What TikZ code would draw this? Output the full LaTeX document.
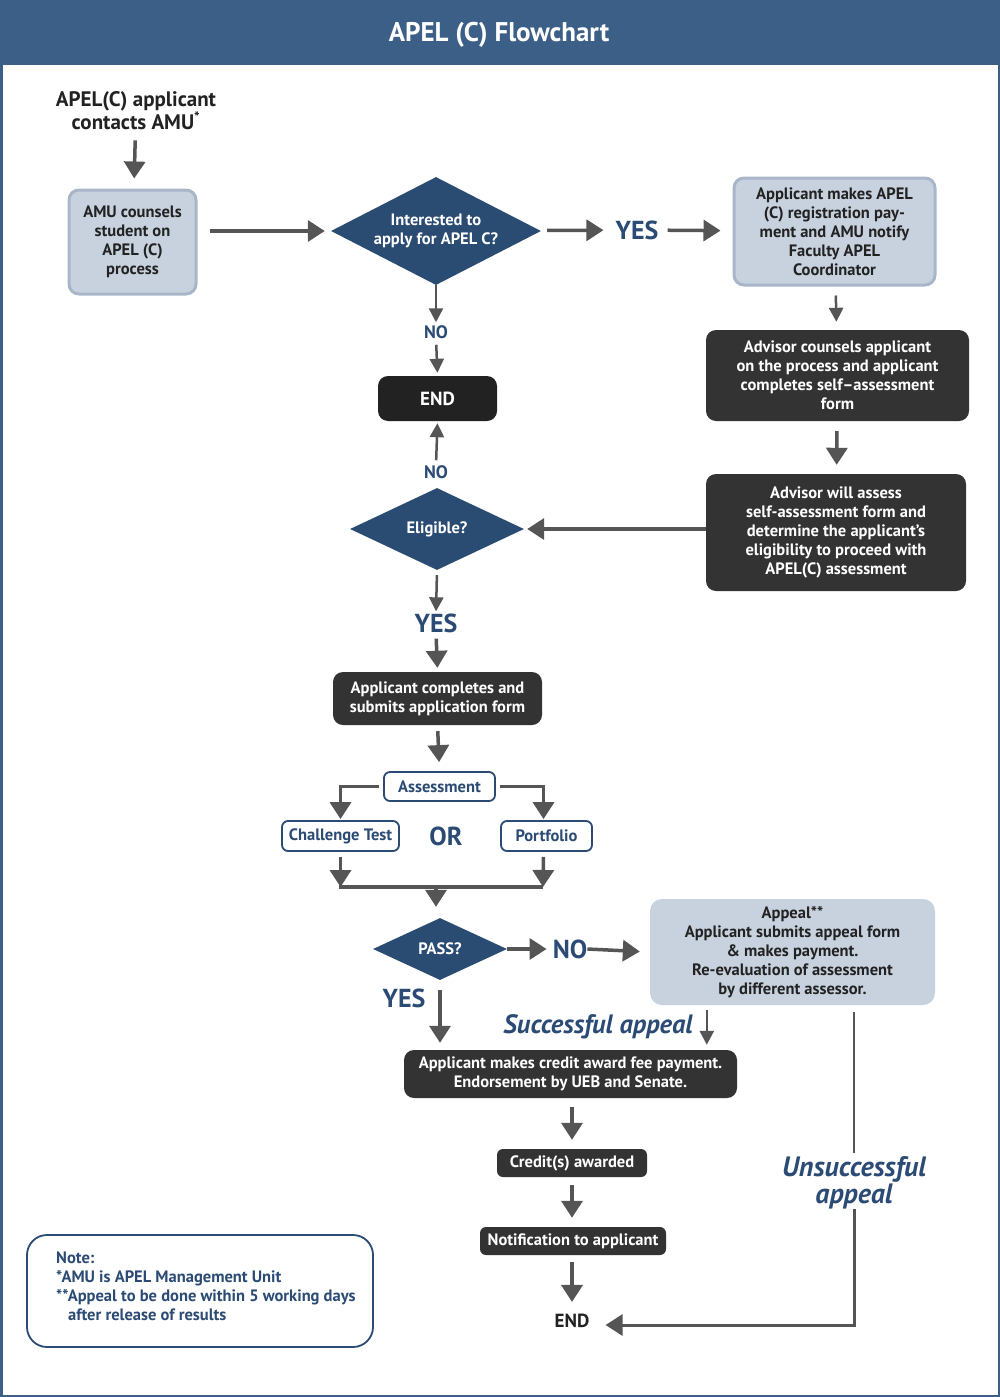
\documentclass[tikz,border=0pt]{standalone}
\usepackage{fontspec}
\setmainfont{PT Sans}
\usetikzlibrary{arrows.meta,shapes.geometric}
\definecolor{hdr}{HTML}{3B5F86}
\definecolor{dia}{HTML}{2B4C72}
\definecolor{darkbox}{HTML}{333333}
\definecolor{endbox}{HTML}{222222}
\definecolor{lightfill}{HTML}{C8D2DE}
\definecolor{lightdraw}{HTML}{A9B6C9}
\definecolor{bluetxt}{HTML}{2B4B74}
\definecolor{arrowgray}{HTML}{555555}
\definecolor{txtdark}{HTML}{222222}
\begin{document}
\begin{tikzpicture}[x=1pt,y=-1pt,
  bodyfont/.style={font=\fontsize{16.5}{19}\selectfont\bfseries},
  lightbox/.style={rectangle,rounded corners=10pt,fill=lightfill,draw=lightdraw,line width=3pt,align=center,text=txtdark,bodyfont,inner sep=0pt},
  darkbx/.style={rectangle,rounded corners=10pt,fill=darkbox,align=center,text=white,bodyfont,inner sep=0pt},
  outbox/.style={rectangle,rounded corners=6pt,fill=white,draw=bluetxt,line width=1.8pt,align=center,text=bluetxt,bodyfont,inner sep=0pt},
  decision/.style={diamond,aspect=2,fill=dia,text=white,align=center,bodyfont,inner sep=0pt},
  biglabel/.style={text=bluetxt,font=\fontsize{26}{28}\selectfont\bfseries,inner sep=0pt},
  midlabel/.style={text=bluetxt,font=\fontsize{18}{22}\selectfont\bfseries,inner sep=0pt},
  itlabel/.style={text=bluetxt,font=\fontsize{26.5}{25}\selectfont\bfseries\itshape,inner sep=0pt,align=center},
  arr/.style={draw=arrowgray,line width=3.5pt,-{Triangle[width=21pt,length=17pt]}},
  arrthin/.style={draw=arrowgray,line width=2.5pt,-{Triangle[width=14pt,length=14pt]}},
  plainline/.style={draw=arrowgray,line width=3.5pt},
  plainthin/.style={draw=arrowgray,line width=2.5pt}
]
\useasboundingbox (0,0) rectangle (1000,1397);
% header and frame
\fill[hdr] (0,0) rectangle (1000,65);
\draw[hdr,line width=2.5pt] (1.25,1.25) rectangle (998.75,1395.75);
\node[text=white,font=\fontsize{27}{30}\selectfont\bfseries,inner sep=0pt] (title) at (499,35) {APEL (C) Flowchart};

% nodes
\node[text=txtdark,font=\fontsize{21}{23}\selectfont\bfseries,align=center,inner sep=0pt] (start) at (136,111) {APEL(C) applicant\\contacts AMU\textsuperscript{*}};
\node[lightbox,minimum width=127pt,minimum height=104pt] (amu) at (132.5,242) {AMU counsels\\student on\\APEL (C)\\process};
\node[decision,minimum width=210pt,minimum height=108pt] (int) at (436,231) {Interested to\\apply for APEL C?\rule{0pt}{6pt}};
\node[biglabel] (yes1) at (637,230) {YES};
\node[lightbox,minimum width=201pt,minimum height=107pt] (reg) at (834.5,231.5) {Applicant makes APEL\\(C) registration pay-\\ment and AMU notify\\Faculty APEL\\Coordinator};
\node[darkbx,minimum width=263pt,minimum height=91pt] (adv1) at (837.5,375.5) {Advisor counsels applicant\\on the process and applicant\\completes self–assessment\\form};
\node[darkbx,minimum width=260pt,minimum height=117pt] (adv2) at (836,532.5) {Advisor will assess\\self-assessment form and\\determine the applicant’s\\eligibility to proceed with\\APEL(C) assessment};
\node[midlabel] (no1) at (436,332) {NO};
\node[rectangle,rounded corners=10pt,fill=endbox,text=white,font=\fontsize{19}{22}\selectfont\bfseries,minimum width=119pt,minimum height=45pt,inner sep=0pt] (endA) at (437.5,398.5) {END};
\node[midlabel] (no2) at (436,472) {NO};
\node[decision,minimum width=174pt,minimum height=82pt] (eli) at (437,529) {Eligible?};
\node[biglabel] (yes2) at (436,623) {YES};
\node[darkbx,minimum width=209pt,minimum height=53pt] (app) at (437.5,698.5) {Applicant completes and\\submits application form};
\node[outbox,minimum width=111pt,minimum height=29pt] (assess) at (439.5,786.5) {Assessment};
\node[outbox,minimum width=117pt,minimum height=30pt] (chal) at (340.5,836) {Challenge Test};
\node[outbox,minimum width=91pt,minimum height=30pt] (port) at (546.5,836) {Portfolio};
\node[biglabel] (or) at (446,836) {OR};
\coordinate (jl) at (339,887);
\coordinate (jr) at (543,887);
\coordinate (jm) at (436,887);
\node[decision,minimum width=134pt,minimum height=62pt] (pass) at (440,949) {PASS?};
\node[biglabel] (no3) at (570,949) {NO};
\node[rectangle,rounded corners=12pt,fill=lightfill,align=center,text=txtdark,bodyfont,inner sep=0pt,minimum width=285pt,minimum height=106pt] (appeal) at (792.5,952) {Appeal**\\Applicant submits appeal form\\\& makes payment.\\Re-evaluation of assessment\\by different assessor.};
\node[biglabel] (yes3) at (404,998) {YES};
\node[itlabel] (succ) at (598,1027) {Successful appeal};
\node[darkbx,minimum width=333pt,minimum height=48pt] (credit) at (570.5,1074) {Applicant makes credit award fee payment.\\Endorsement by UEB and Senate.};
\node[darkbx,rounded corners=6pt,minimum width=150pt,minimum height=28pt] (cred2) at (572,1163) {Credit(s) awarded};
\node[darkbx,rounded corners=6pt,minimum width=186pt,minimum height=28pt] (notif) at (573,1241) {Notification to applicant};
\node[text=txtdark,font=\fontsize{19}{22}\selectfont\bfseries,inner sep=0pt] (endB) at (572,1321) {END};
\node[itlabel,font=\fontsize{28}{25}\selectfont\bfseries\itshape] (unsucc) at (854,1183) {Unsuccessful\\appeal};

% note
\node[rectangle,rounded corners=20pt,draw=bluetxt,line width=1.8pt,fill=white,minimum width=346pt,minimum height=112pt,inner sep=0pt] (notebox) at (200,1291) {};
\node[anchor=north west,align=left,text=bluetxt,bodyfont,inner sep=0pt] (notetxt) at (56,1252) {Note:\\*AMU is APEL Management Unit\\**Appeal to be done within 5 working days\\\hspace*{12pt}after release of results};

% connectors
\draw[arr,shorten <=10pt,shorten >=10pt] (start) -- (amu);
\draw[arr,shorten <=12pt,shorten >=6pt] (amu.east |- int.west) -- (int.west);
\draw[arr,shorten <=7pt,shorten >=12pt] (int) -- (yes1);
\draw[arr,shorten <=9pt,shorten >=12pt] (yes1) -- (reg);
\draw[arrthin,shorten <=9pt,shorten >=8pt] (reg) -- (adv1);
\draw[arr,shorten <=10pt,shorten >=9pt] (adv1) -- (adv2);
\draw[arr,shorten >=3pt] (eli.east -| adv2.west) -- (eli.east);
\draw[arrthin,shorten >=3pt] (int.south) -- (no1.north);
\draw[arrthin,shorten <=6pt,shorten >=3pt] (no1.south) -- (endA.north);
\draw[arrthin,shorten <=5pt,shorten >=2pt] (no2.north) -- (endA.south);
\draw[arrthin,shorten <=5pt,shorten >=2pt] (eli.south) -- (yes2.north);
\draw[arr,shorten <=6pt,shorten >=4pt] (yes2.south) -- (app.north);
\draw[arr,shorten <=6pt,shorten >=9pt] (app.south) -- (assess.north);
\draw[arr,shorten <=4pt,shorten >=1pt] (assess.west) -| (chal.north);
\draw[arr,shorten <=4pt,shorten >=1pt] (assess.east) -| ([xshift=-3pt]port.north);
\draw[plainline] (jl) -- (jr);
\draw[arr,shorten <=5pt] (chal.south) -- (chal.south |- jl);
\draw[arr,shorten <=5pt] ([xshift=-3pt]port.south) -- (jr);
\draw[arr,shorten >=11pt] (jm) -- (jm |- pass.north);
\draw[arr,shorten >=6pt] (pass.east) -- (no3.west);
\draw[arr,shorten >=10pt] (no3.east) -- (appeal.west);
\draw[arr,shorten <=10pt,shorten >=7pt] (pass.south) -- (pass.south |- credit.north);
\draw[arrthin,shorten <=5pt,shorten >=5pt] ([xshift=57pt]appeal.south west) -- ([xshift=57pt]appeal.south west |- credit.north);
\draw[arr,shorten <=9pt,shorten >=9pt] (credit.south -| cred2.north) -- (cred2.north);
\draw[arr,shorten <=8pt,shorten >=9pt] (cred2.south) -- (notif.north -| cred2.south);
\draw[arr,shorten <=7pt,shorten >=12pt] (notif.south -| cred2.south) -- (endB.north -| cred2.south);
\draw[plainthin,shorten <=7pt,shorten >=4pt] (appeal.south -| unsucc.north) -- (unsucc.north);
\draw[arr,line width=3pt,shorten >=16pt] (unsucc.south) |- ([yshift=-4pt]endB.east);
\end{tikzpicture}
\end{document}
